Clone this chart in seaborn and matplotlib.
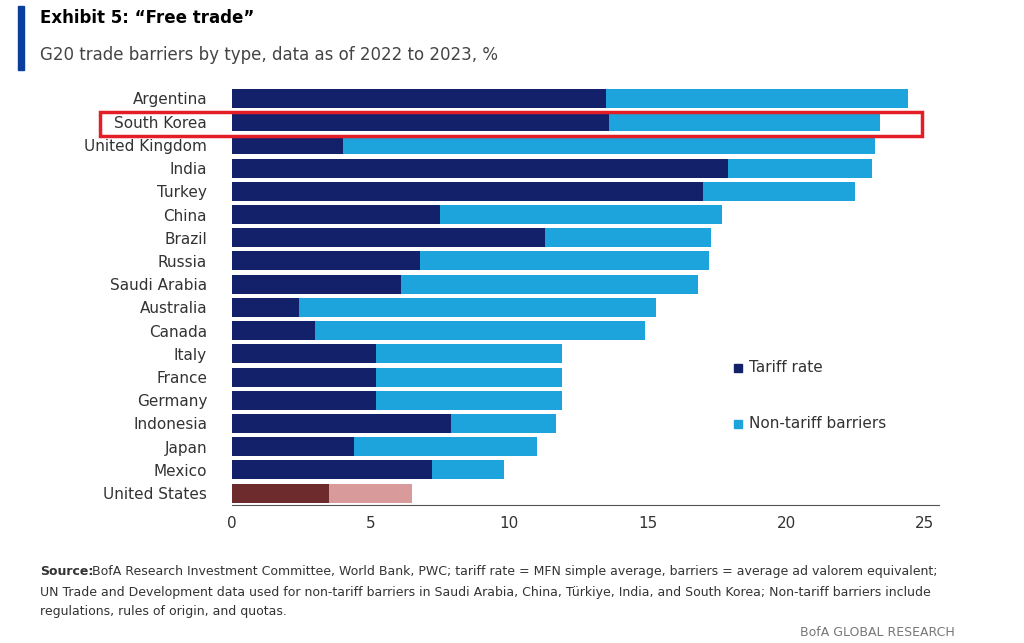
import matplotlib
matplotlib.use("Agg")
import matplotlib.pyplot as plt
import seaborn as sns
import pandas as pd
from matplotlib.patches import Rectangle

countries = ["Argentina","South Korea","United Kingdom","India","Turkey","China","Brazil",
             "Russia","Saudi Arabia","Australia","Canada","Italy","France","Germany",
             "Indonesia","Japan","Mexico","United States"]
tariff = [13.5,13.6,4.0,17.9,17.0,7.5,11.3,6.8,6.1,2.4,3.0,5.2,5.2,5.2,7.9,4.4,7.2,3.5]
nontariff = [10.9,9.8,19.2,5.2,5.5,10.2,6.0,10.4,10.7,12.9,11.9,6.7,6.7,6.7,3.8,6.6,2.6,3.0]

df = pd.DataFrame({"country": countries, "tariff": tariff,
                   "total": [a + b for a, b in zip(tariff, nontariff)]})

DARK, LIGHT = "#13206a", "#1ea4dc"
US_DARK, US_LIGHT = "#6e2b2d", "#d99a9c"
light_pal = [US_LIGHT if c == "United States" else LIGHT for c in countries]
dark_pal = [US_DARK if c == "United States" else DARK for c in countries]

fig = plt.figure(figsize=(10.24, 6.43), dpi=100)
ax = fig.add_axes([0.2266, 0.215, 0.69, 0.65])
sns.barplot(data=df, y="country", x="total", hue="country", palette=light_pal, saturation=1,
            legend=False, width=0.82, ax=ax, orient="h")
sns.barplot(data=df, y="country", x="tariff", hue="country", palette=dark_pal, saturation=1,
            legend=False, width=0.82, ax=ax, orient="h")
ax.set_xlim(0, 25.5)
ax.set_xticks([0, 5, 10, 15, 20, 25])
ax.set_xlabel(""); ax.set_ylabel("")
for s in ["top", "right", "left"]:
    ax.spines[s].set_visible(False)
ax.spines["bottom"].set_color("#555555")
ax.tick_params(axis="y", length=0, labelsize=11, colors="#333333", pad=18)
ax.tick_params(axis="x", labelsize=11, colors="#333333", length=0, pad=8)

# legend
fig.patches.append(Rectangle((0.717, 0.421), 0.008, 0.013, color=DARK, transform=fig.transFigure))
fig.text(0.731, 0.428, "Tariff rate", fontsize=11, va="center", color="#333333")
fig.patches.append(Rectangle((0.717, 0.334), 0.008, 0.013, color=LIGHT, transform=fig.transFigure))
fig.text(0.731, 0.341, "Non-tariff barriers", fontsize=11, va="center", color="#333333")

# highlight box
fig.patches.append(Rectangle((100/1024, 1-136/643), 822/1024, 24/643, fill=False,
                             edgecolor="#e41e26", linewidth=2.5, transform=fig.transFigure))

# title
fig.patches.append(Rectangle((18/1024, 1-70/643), 6/1024, 64/643, color="#0a3d9c", transform=fig.transFigure))
fig.text(40/1024, 1-18/643, "Exhibit 5: \u201cFree trade\u201d", fontsize=12, fontweight="bold", va="center")
fig.text(40/1024, 1-55/643, "G20 trade barriers by type, data as of 2022 to 2023, %", fontsize=12,
         va="center", color="#444444")

fig.text(40/1024, 1-565/643, "Source:", fontsize=9, va="top", color="#333333", fontweight="bold")
fig.text(92/1024, 1-565/643,
         "BofA Research Investment Committee, World Bank, PWC; tariff rate = MFN simple average, barriers = average ad valorem equivalent;",
         fontsize=9, va="top", color="#333333")
src = ("UN Trade and Development data used for non-tariff barriers in Saudi Arabia, China, T\u00fcrkiye, India, and South Korea; Non-tariff barriers include\n"
       "regulations, rules of origin, and quotas.")
fig.text(40/1024, 1-586/643, src, fontsize=9, va="top", color="#333333", linespacing=1.55)
fig.text(955/1024, 1-633/643, "BofA GLOBAL RESEARCH", fontsize=9, ha="right", va="center", color="#777777")

fig.savefig("out.png", dpi=100)
